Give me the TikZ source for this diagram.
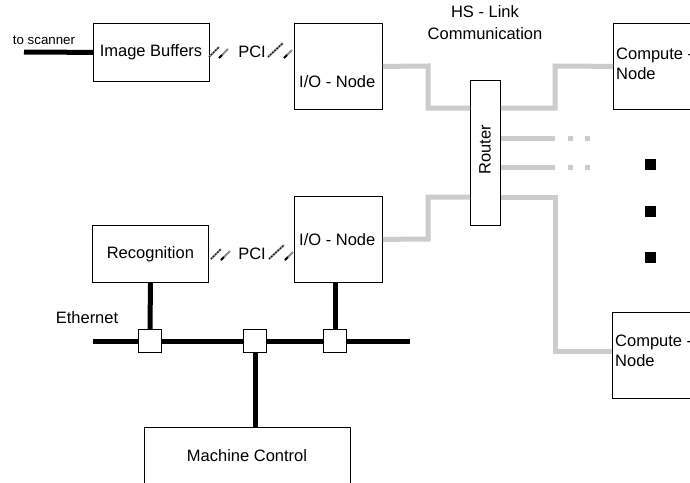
\documentclass[tikz,border=0pt]{standalone}
\usepackage{fontspec}
\setmainfont{Liberation Sans}
\begin{document}
\begin{tikzpicture}[x=1pt,y=-1pt,
  box/.style={draw, line width=0.8pt, inner sep=0pt, anchor=north west},
  lbl/.style={inner sep=0pt, font=\fontsize{16.5}{19.5}\selectfont},
  small/.style={inner sep=0pt, font=\fontsize{13.3}{15}\selectfont},
  eth/.style={line width=5pt},
  hs/.style={draw=black!20, line width=5pt},
  jbox/.style={draw, fill=white, line width=0.8pt, minimum size=23pt, inner sep=0pt},
  dotbox/.style={fill=black, minimum size=11pt, inner sep=0pt},
  gdot/.style={fill=black!20, minimum size=5pt, inner sep=0pt},
  slashg/.style={draw=black!45, line width=2pt},
  slashd/.style={draw=black!90, line width=1.3pt, dash pattern=on 1.4pt off 1.6pt},
  slashb/.style={draw=black, line width=2pt}
]
\clip (0,0) rectangle (690,482);
\fill[white] (0,0) rectangle (690,482);

% boxes
\node[box, minimum width=116pt, minimum height=58pt] (ib) at (93,23) {};
\node[lbl] (ibt) at (151,52) {Image Buffers};
\node[box, minimum width=88pt, minimum height=86pt] (io1) at (294,23) {};
\node[lbl, anchor=west] (io1t) at (299,82) {I/O - Node};
\node[box, minimum width=116pt, minimum height=57pt] (rec) at (92,225) {};
\node[lbl] (rect) at (rec.center) {Recognition};
\node[box, minimum width=88pt, minimum height=86pt] (io2) at (294,196) {};
\node[lbl, anchor=west] (io2t) at (299,240) {I/O - Node};
\node[box, minimum width=30pt, minimum height=145pt] (rt) at (470,80) {};
\node[lbl, rotate=90] (rtt) at (485,150) {Router};
\node[box, minimum width=110pt, minimum height=86pt] (cn1) at (613,23) {};
\node[lbl, anchor=north west, align=left] (cn1t) at (616,48) {Compute -\\Node};
\node[box, minimum width=110pt, minimum height=86pt] (cn2) at (612,312) {};
\node[lbl, anchor=north west, align=left] (cn2t) at (615,335) {Compute -\\Node};
\node[box, minimum width=206pt, minimum height=80pt] (mc) at (144,427) {};
\node[lbl] (mct) at (247,456) {Machine Control};

% texts
\node[small] (scan) at (44,40) {to scanner};
\node[lbl] (hs1) at (485,12) {HS - Link};
\node[lbl] (hs2) at (485,34) {Communication};
\node[lbl] (ethl) at (87,318) {Ethernet};
\node[lbl] (pci1) at (252,52) {PCI};
\node[lbl] (pci2) at (252,254) {PCI};

% scanner line
\coordinate (scanend) at (24,52);
\draw[eth] (scanend) -- (ib.west);

% HS links
\draw[hs] (io1.east) -- (428,66) -- (428,108) -- (rt.west |- 0,108);
\draw[hs] (rt.east |- 0,108) -- (555,108) -- (555,66) -- (cn1.west);
\draw[hs] (io2.east) -- (428,239) -- (428,197) -- (rt.west |- 0,197);
\draw[hs] (rt.east |- 0,197) -- (555,197) -- (555,351) -- (cn2.west |- 0,351);
\coordinate (s1) at (555,138);
\coordinate (s2) at (555,167);
\draw[hs] (rt.east |- s1) -- (s1);
\draw[hs] (rt.east |- s2) -- (s2);
\node[gdot] (g1) at (570,138) {};
\node[gdot] (g2) at (587,138) {};
\node[gdot] (g3) at (570,167) {};
\node[gdot] (g4) at (587,167) {};

% black dots
\node[dotbox] (d1) at (650,164) {};
\node[dotbox] (d2) at (650,211) {};
\node[dotbox] (d3) at (650,257) {};

% PCI marks before PCI
\foreach \xs/\yy in {209/52, 211/254}{
  \draw[slashg] (\xs,\yy+5) -- (\xs+10,\yy-5);
  \draw[slashd] (\xs,\yy+5) -- (\xs+10,\yy-5);
  \draw[slashg] (\xs+10,\yy+6) -- (\xs+19,\yy-3);
  \draw[slashb] (\xs+10,\yy+6) -- (\xs+13,\yy+3);
}
% PCI marks after PCI
\foreach \xs/\yy in {268/52, 269/254}{
  \draw[slashg] (\xs,\yy+5) -- (\xs+15,\yy-9);
  \draw[slashd] (\xs,\yy+5) -- (\xs+15,\yy-9);
  \draw[slashg] (\xs+16,\yy+6) -- (\xs+24,\yy-2);
  \draw[slashb] (\xs+16,\yy+6) -- (\xs+19,\yy+3);
}

% Ethernet
\coordinate (e1) at (93,341);
\coordinate (e2) at (410,341);
\coordinate (c1) at (150,341);
\coordinate (c2) at (255,341);
\coordinate (c3) at (335,341);
\draw[eth] (e1) -- (e2);
\draw[eth] (rec.south) -- (c1);
\draw[eth] (c3 |- io2.south) -- (c3);
\draw[eth] (c2) -- (c2 |- mc.north);
\node[jbox] (j1) at (c1) {};
\node[jbox] (j2) at (c2) {};
\node[jbox] (j3) at (c3) {};
\end{tikzpicture}
\end{document}
